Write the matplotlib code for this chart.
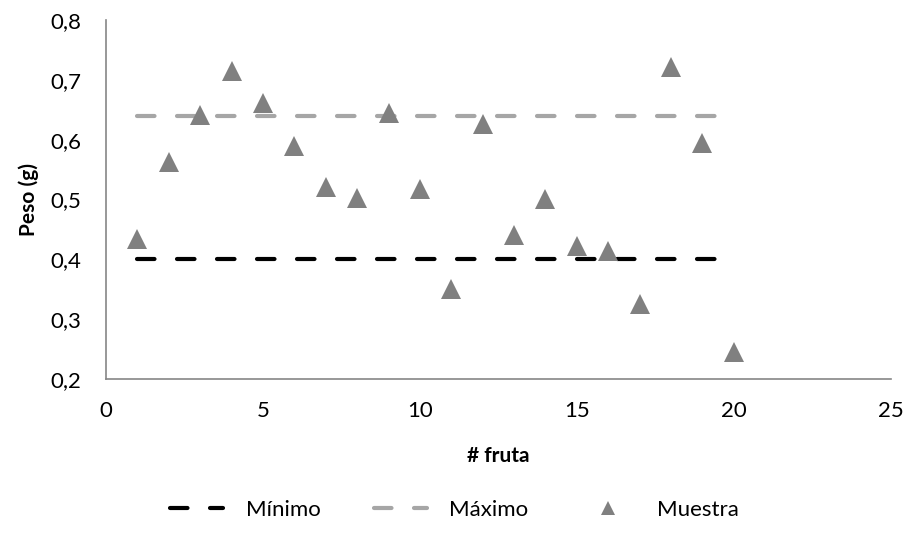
import matplotlib
matplotlib.use("Agg")
import matplotlib.pyplot as plt
from matplotlib.ticker import FuncFormatter, MultipleLocator

plt.rcParams['font.family'] = ['Lato', 'DejaVu Sans']

fruta = list(range(1, 21))
minimo = [0.4] * 20
maximo = [0.64] * 20
muestra = [0.434, 0.562, 0.641, 0.714, 0.661, 0.589, 0.521, 0.502, 0.645, 0.517,
           0.351, 0.626, 0.441, 0.500, 0.423, 0.414, 0.325, 0.721, 0.594, 0.245]

fig = plt.figure(figsize=(9.09, 5.38), dpi=100)
ax = fig.add_axes([0.1166, 0.2955, 0.8634, 0.6675])

ax.plot(fruta, minimo, color='black', lw=3, dashes=(4.2, 5.4),
        dash_capstyle='round', label='Mínimo')
ax.plot(fruta, maximo, color='#a6a6a6', lw=3, dashes=(4.2, 5.4),
        dash_capstyle='round', label='Máximo')
ax.plot(fruta, muestra, ls='none', marker='^', markersize=14,
        color='#808080', markeredgewidth=0, label='Muestra')

ax.set_xlim(0, 25)
ax.set_ylim(0.2, 0.8)
ax.xaxis.set_major_locator(MultipleLocator(5))
ax.yaxis.set_major_locator(MultipleLocator(0.1))
ax.yaxis.set_major_formatter(FuncFormatter(lambda v, p: f'{v:.1f}'.replace('.', ',')))
ax.tick_params(length=0, labelsize=16, colors='black')
ax.tick_params(axis='x', pad=16)
ax.tick_params(axis='y', pad=18)

for s in ['top', 'right']:
    ax.spines[s].set_visible(False)
for s in ['left', 'bottom']:
    ax.spines[s].set_color('#868686')
    ax.spines[s].set_linewidth(1.2)

ax.set_xlabel('# fruta', fontsize=15, fontweight='bold', labelpad=18)
ax.set_ylabel('Peso (g)', fontsize=15, fontweight='bold', labelpad=8)

fig.legend(loc='center', bbox_to_anchor=(0.5, 0.052), ncol=3, frameon=False,
           fontsize=16, handlelength=2.4, columnspacing=2.4, handletextpad=1.0,
           markerscale=0.75)

fig.savefig('out.png', dpi=100)
